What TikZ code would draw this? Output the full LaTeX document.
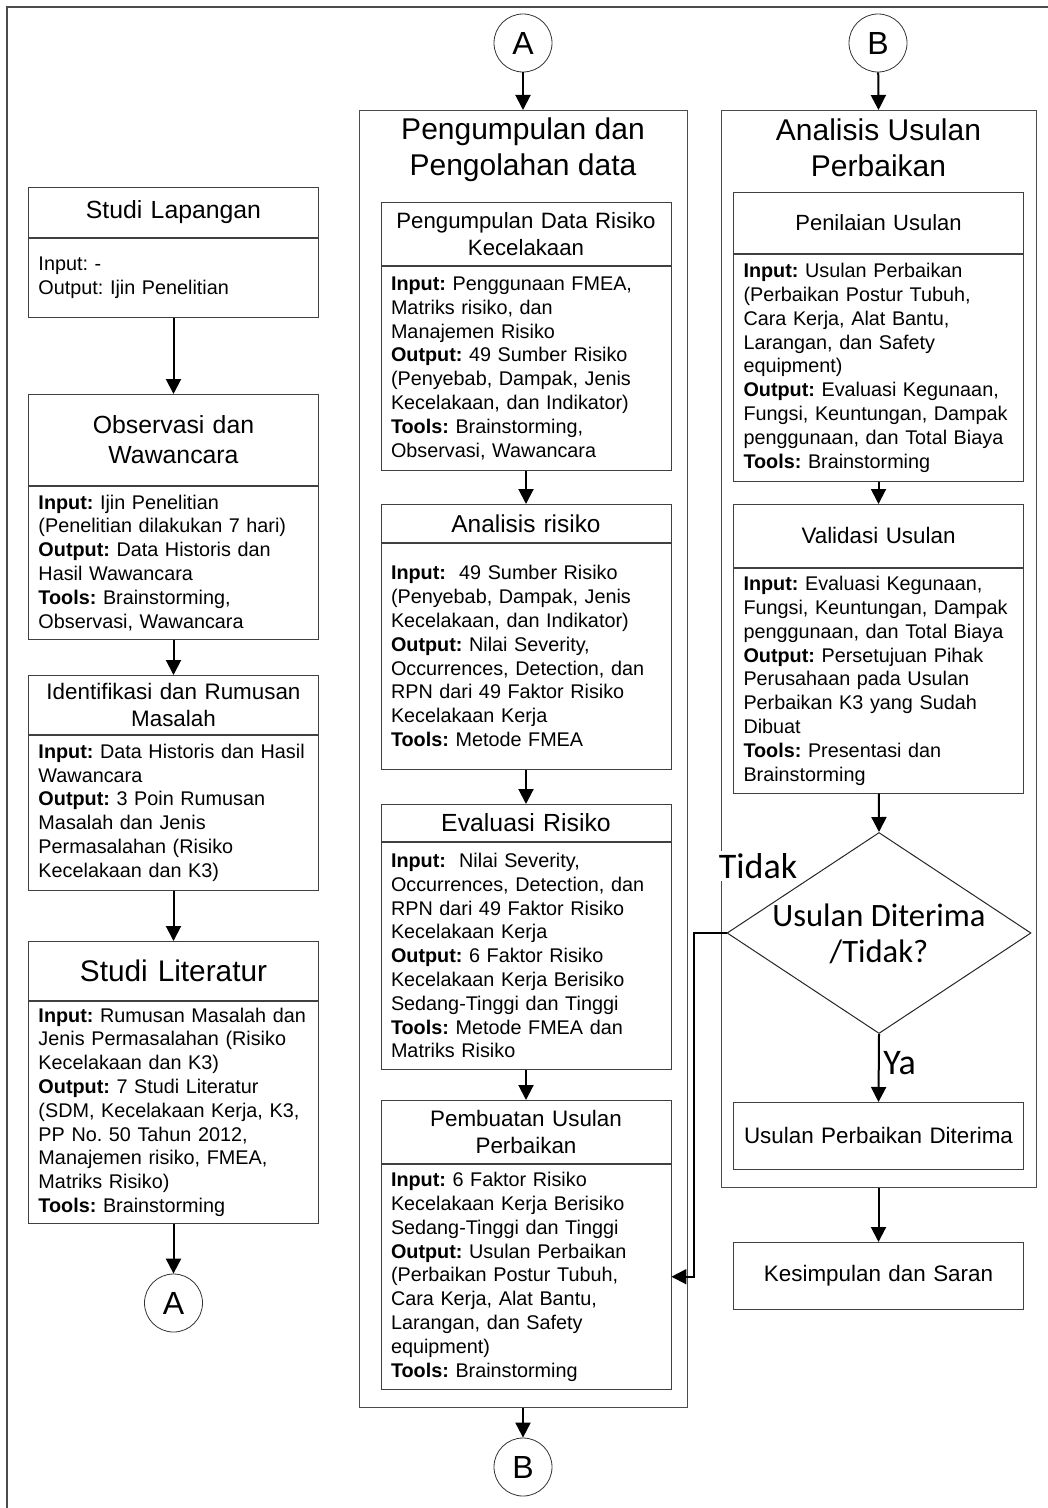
\documentclass[tikz,border=0pt]{standalone}
\usepackage{fontspec}
\setmainfont{Liberation Sans}
\newfontfamily\calibfont{Carlito}
\usetikzlibrary{arrows.meta,calc,positioning,shapes.geometric}
\frenchspacing

\tikzset{
  hdr/.style={draw=black!75, fill=white, text width=135pt, inner xsep=5pt, inner ysep=2pt, align=center, anchor=north},
  bodybox/.style={draw=black!75, fill=white, text width=135pt, inner xsep=5pt, inner ysep=2pt, align=left, font=\fontsize{9.9}{11.9}\selectfont},
  groupbox/.style={draw=black!70, anchor=north, inner sep=0pt},
  conn/.style={circle, draw=black!80, minimum size=29pt, inner sep=0pt, font=\fontsize{16}{16}\selectfont},
  arr/.style={-{Triangle[length=7.5pt,width=7.5pt]}, line width=1pt},
  lbl/.style={font=\calibfont\fontsize{18}{18}\selectfont, inner sep=1pt},
}

\begin{document}
\begin{tikzpicture}[x=0.5pt, y=-0.5pt]

\useasboundingbox (0,0) rectangle (1048,1508);
\draw[black!70, line width=0.6pt] (7,1508) -- (7,7) -- (1048,7);

% kolom kiri
\node[hdr, minimum height=25pt, font=\fontsize{12.4}{14}\selectfont] (studiH) at (173.5,187) {Studi Lapangan};
\node[bodybox, minimum height=39.5pt, below=0pt of studiH] (studiB) {Input: -\\Output: Ijin Penelitian};

\node[hdr, minimum height=45.5pt, font=\fontsize{12.4}{15}\selectfont] (obsH) at (173.5,394) {Observasi dan\\Wawancara};
\node[bodybox, minimum height=76.5pt, below=0pt of obsH] (obsB) {\textbf{Input:} Ijin Penelitian\\
(Penelitian dilakukan 7 hari)\\
\textbf{Output:} Data Historis dan\\
Hasil Wawancara\\
\textbf{Tools:} Brainstorming,\\
Observasi, Wawancara};

\node[hdr, minimum height=29.5pt, font=\fontsize{11.2}{13.3}\selectfont] (idH) at (173.5,675) {Identifikasi dan Rumusan\\Masalah};
\node[bodybox, minimum height=77.5pt, below=0pt of idH] (idB) {\textbf{Input:} Data Historis dan Hasil\\
Wawancara\\
\textbf{Output:} 3 Poin Rumusan\\
Masalah dan Jenis\\
Permasalahan (Risiko\\
Kecelakaan dan K3)};

\node[hdr, minimum height=29.5pt, font=\fontsize{14.9}{17}\selectfont] (litH) at (173.5,941) {Studi Literatur};
\node[bodybox, minimum height=111pt, below=0pt of litH] (litB) {\textbf{Input:} Rumusan Masalah dan\\
Jenis Permasalahan (Risiko\\
Kecelakaan dan K3)\\
\textbf{Output:} 7 Studi Literatur\\
(SDM, Kecelakaan Kerja, K3,\\
PP No. 50 Tahun 2012,\\
Manajemen risiko, FMEA,\\
Matriks Risiko)\\
\textbf{Tools:} Brainstorming};

\node[conn] (cA1) at (173.5,1303) {A};

\draw[arr] (studiB) -- (obsH);
\draw[arr] (obsB) -- (idH);
\draw[arr] (idB) -- (litH);
\draw[arr] (litB) -- (cA1);

% kolom tengah
\node[conn] (cA2) at (523,43) {A};
\node[groupbox, minimum width=164pt, minimum height=648.5pt] (dataC) at (523,110) {};
\node[align=center, font=\fontsize{15}{18}\selectfont] (dataT) at (523,150) {Pengumpulan dan\\Pengolahan data};

\node[hdr, minimum height=31.5pt, font=\fontsize{11.1}{13.5}\selectfont] (pdH) at (526,202) {Pengumpulan Data Risiko\\Kecelakaan};
\node[bodybox, minimum height=102pt, below=0pt of pdH] (pdB) {\textbf{Input:} Penggunaan FMEA,\\
Matriks risiko, dan\\
Manajemen Risiko\\
\textbf{Output:} 49 Sumber Risiko\\
(Penyebab, Dampak, Jenis\\
Kecelakaan, dan Indikator)\\
\textbf{Tools:} Brainstorming,\\
Observasi, Wawancara};

\node[hdr, minimum height=19pt, font=\fontsize{12.2}{14}\selectfont] (arH) at (526,504) {Analisis risiko};
\node[bodybox, minimum height=113pt, below=0pt of arH] (arB) {\textbf{Input:}\ \ 49 Sumber Risiko\\
(Penyebab, Dampak, Jenis\\
Kecelakaan, dan Indikator)\\
\textbf{Output:} Nilai Severity,\\
Occurrences, Detection, dan\\
RPN dari 49 Faktor Risiko\\
Kecelakaan Kerja\\
\textbf{Tools:} Metode FMEA};

\node[hdr, minimum height=18.5pt, font=\fontsize{12.4}{14}\selectfont] (evH) at (526,804) {Evaluasi Risiko};
\node[bodybox, minimum height=113.5pt, below=0pt of evH] (evB) {\textbf{Input:}\ \ Nilai Severity,\\
Occurrences, Detection, dan\\
RPN dari 49 Faktor Risiko\\
Kecelakaan Kerja\\
\textbf{Output:} 6 Faktor Risiko\\
Kecelakaan Kerja Berisiko\\
Sedang-Tinggi dan Tinggi\\
\textbf{Tools:} Metode FMEA dan\\
Matriks Risiko};

\node[hdr, minimum height=31.5pt, font=\fontsize{11.2}{13.3}\selectfont] (pbH) at (526,1100) {Pembuatan Usulan\\Perbaikan};
\node[bodybox, minimum height=112.5pt, below=0pt of pbH] (pbB) {\textbf{Input:} 6 Faktor Risiko\\
Kecelakaan Kerja Berisiko\\
Sedang-Tinggi dan Tinggi\\
\textbf{Output:} Usulan Perbaikan\\
(Perbaikan Postur Tubuh,\\
Cara Kerja, Alat Bantu,\\
Larangan, dan Safety\\
equipment)\\
\textbf{Tools:} Brainstorming};

\node[conn] (cB1) at (523,1467) {B};

\draw[arr] (cA2) -- (dataC.north);
\draw[arr] (pdB) -- (arH);
\draw[arr] (arB) -- (evH);
\draw[arr] (evB) -- (pbH);
\draw[arr] (dataC.south) -- (cB1);

% kolom kanan
\node[conn] (cB2) at (878,43) {B};
\node[groupbox, minimum width=157.5pt, minimum height=538.5pt] (usulC) at (878.5,110) {};
\node[align=center, font=\fontsize{15}{18}\selectfont] (usulT) at (878.5,148) {Analisis Usulan\\Perbaikan};

\node[hdr, minimum height=30.5pt, font=\fontsize{11}{13}\selectfont] (pnH) at (878.5,192) {Penilaian Usulan};
\node[bodybox, minimum height=113.5pt, below=0pt of pnH] (pnB) {\textbf{Input:} Usulan Perbaikan\\
(Perbaikan Postur Tubuh,\\
Cara Kerja, Alat Bantu,\\
Larangan, dan Safety\\
equipment)\\
\textbf{Output:} Evaluasi Kegunaan,\\
Fungsi, Keuntungan, Dampak\\
penggunaan, dan Total Biaya\\
\textbf{Tools:} Brainstorming};

\node[hdr, minimum height=31.5pt, font=\fontsize{11.2}{13}\selectfont] (vdH) at (878.5,504) {Validasi Usulan};
\node[bodybox, minimum height=112.5pt, below=0pt of vdH] (vdB) {\textbf{Input:} Evaluasi Kegunaan,\\
Fungsi, Keuntungan, Dampak\\
penggunaan, dan Total Biaya\\
\textbf{Output:} Persetujuan Pihak\\
Perusahaan pada Usulan\\
Perbaikan K3 yang Sudah\\
Dibuat\\
\textbf{Tools:} Presentasi dan\\
Brainstorming};

\node[diamond, draw=black!85, line width=0.5pt, fill=white, minimum width=152pt, minimum height=100.5pt, inner sep=0pt] (dec) at (879,933) {};
\node[align=center, font=\calibfont\fontsize{16.3}{18}\selectfont] (decT) at (879,934) {Usulan Diterima\\/Tidak?};

\node[hdr, minimum height=33.5pt, font=\fontsize{11.2}{14}\selectfont] (upd) at (878.5,1102) {Usulan Perbaikan Diterima};
\node[hdr, minimum height=33.5pt, font=\fontsize{11.2}{14}\selectfont] (kes) at (878.5,1242) {Kesimpulan dan Saran};

\coordinate (tdk) at (694,933);

\draw[arr] (cB2) -- (usulC.north);
\draw[arr] (pnB) -- (vdH);
\draw[arr] (vdB) -- (dec.north);
\draw[arr] (dec.south) -- (upd.north);
\draw[arr] (usulC.south) -- (kes.north);
\draw[arr] (dec.west) -- (tdk) |- (pbB.east);

\node[lbl, fill=white] (tidak) at (758,866) {Tidak};
\node[lbl, anchor=west] (ya) at (881,1063) {Ya};

\end{tikzpicture}
\end{document}
